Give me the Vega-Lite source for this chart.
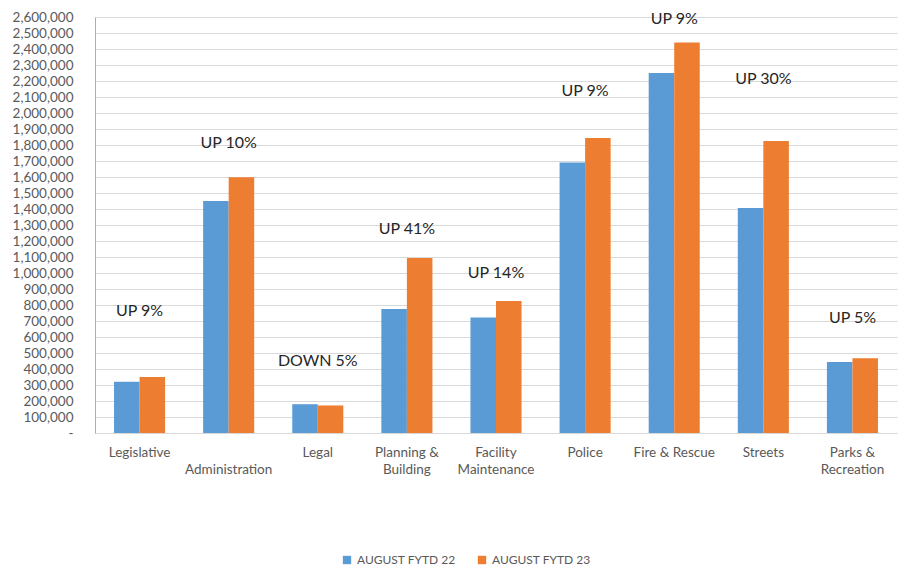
{
  "$schema": "https://vega.github.io/schema/vega-lite/v6.json",
  "autosize": {"type": "none"},
  "width": 802,
  "height": 416,
  "padding": {"left": 95, "top": 17, "right": 20, "bottom": 151},
  "background": "white",
  "config": {
    "font": "Lato",
    "view": {"stroke": null},
    "axis": {"labelFont": "Lato", "labelColor": "#595959", "ticks": false, "title": null}
  },
  "datasets": {
    "spending": [
      {"department": "Legislative", "period": "AUGUST FYTD 22", "amount": 320000},
      {"department": "Legislative", "period": "AUGUST FYTD 23", "amount": 350000},
      {"department": "Administration", "period": "AUGUST FYTD 22", "amount": 1450000},
      {"department": "Administration", "period": "AUGUST FYTD 23", "amount": 1598000},
      {"department": "Legal", "period": "AUGUST FYTD 22", "amount": 180000},
      {"department": "Legal", "period": "AUGUST FYTD 23", "amount": 172000},
      {"department": "Planning & Building", "period": "AUGUST FYTD 22", "amount": 775000},
      {"department": "Planning & Building", "period": "AUGUST FYTD 23", "amount": 1094000},
      {"department": "Facility Maintenance", "period": "AUGUST FYTD 22", "amount": 722000},
      {"department": "Facility Maintenance", "period": "AUGUST FYTD 23", "amount": 825000},
      {"department": "Police", "period": "AUGUST FYTD 22", "amount": 1690000},
      {"department": "Police", "period": "AUGUST FYTD 23", "amount": 1843000},
      {"department": "Fire & Rescue", "period": "AUGUST FYTD 22", "amount": 2250000},
      {"department": "Fire & Rescue", "period": "AUGUST FYTD 23", "amount": 2440000},
      {"department": "Streets", "period": "AUGUST FYTD 22", "amount": 1406000},
      {"department": "Streets", "period": "AUGUST FYTD 23", "amount": 1825000},
      {"department": "Parks & Recreation", "period": "AUGUST FYTD 22", "amount": 444000},
      {"department": "Parks & Recreation", "period": "AUGUST FYTD 23", "amount": 467000}
    ],
    "changes": [
      {"department": "Legislative", "note": "UP 9%", "at": 760000},
      {"department": "Administration", "note": "UP 10%", "at": 1810000},
      {"department": "Legal", "note": "DOWN 5%", "at": 450000},
      {"department": "Planning & Building", "note": "UP 41%", "at": 1275000},
      {"department": "Facility Maintenance", "note": "UP 14%", "at": 1000000},
      {"department": "Police", "note": "UP 9%", "at": 2140000},
      {"department": "Fire & Rescue", "note": "UP 9%", "at": 2590000},
      {"department": "Streets", "note": "UP 30%", "at": 2210000},
      {"department": "Parks & Recreation", "note": "UP 5%", "at": 720000}
    ]
  },
  "encoding": {
    "x": {
      "field": "department",
      "type": "nominal",
      "sort": null,
      "scale": {"paddingInner": 0.427, "paddingOuter": 0.2135},
      "axis": {
        "labelAngle": 0,
        "labelFontSize": 13.5,
        "labelPadding": 12,
        "labelLineHeight": 17,
        "labelBaseline": "top",
        "labelOverlap": false,
        "domainColor": "#d9d9d9",
        "domainWidth": 1,
        "labelExpr": "datum.value == 'Administration' ? [' ', 'Administration'] : datum.value == 'Planning & Building' ? ['Planning &', 'Building'] : datum.value == 'Facility Maintenance' ? ['Facility', 'Maintenance'] : datum.value == 'Parks & Recreation' ? ['Parks &', 'Recreation'] : datum.value"
      }
    },
    "y": {
      "field": "amount",
      "type": "quantitative",
      "scale": {"domain": [0, 2600000], "nice": false},
      "axis": {
        "values": [0, 100000, 200000, 300000, 400000, 500000, 600000, 700000, 800000, 900000, 1000000, 1100000, 1200000, 1300000, 1400000, 1500000, 1600000, 1700000, 1800000, 1900000, 2000000, 2100000, 2200000, 2300000, 2400000, 2500000, 2600000],
        "labelFontSize": 13.5,
        "labelPadding": 22,
        "labelOverlap": false,
        "gridColor": "#d9d9d9",
        "gridWidth": 1,
        "domainColor": "#8db4e2",
        "domainWidth": 1,
        "labelExpr": "datum.value == 0 ? '-\u00a0\u00a0\u00a0' : format(datum.value, ',')"
      }
    }
  },
  "layer": [
    {
      "data": {"name": "spending"},
      "mark": {"type": "bar"},
      "encoding": {
        "xOffset": {"field": "period", "type": "nominal", "scale": {"paddingInner": 0, "paddingOuter": 0}},
        "color": {
          "field": "period",
          "type": "nominal",
          "scale": {"domain": ["AUGUST FYTD 22", "AUGUST FYTD 23"], "range": ["#5b9bd5", "#ed7d31"]},
          "legend": {
            "title": null,
            "orient": "none",
            "direction": "horizontal",
            "legendX": 246,
            "legendY": 537,
            "symbolType": "square",
            "symbolSize": 70,
            "symbolStrokeWidth": 0,
            "labelFontSize": 12,
            "labelColor": "#595959",
            "labelFont": "Lato",
            "columnPadding": 20,
            "labelOffset": 4
          }
        }
      }
    },
    {
      "data": {"name": "changes"},
      "mark": {"type": "text", "fontSize": 16, "color": "#262626", "baseline": "middle", "align": "center"},
      "encoding": {
        "y": {"field": "at", "type": "quantitative"},
        "text": {"field": "note"}
      }
    }
  ]
}
